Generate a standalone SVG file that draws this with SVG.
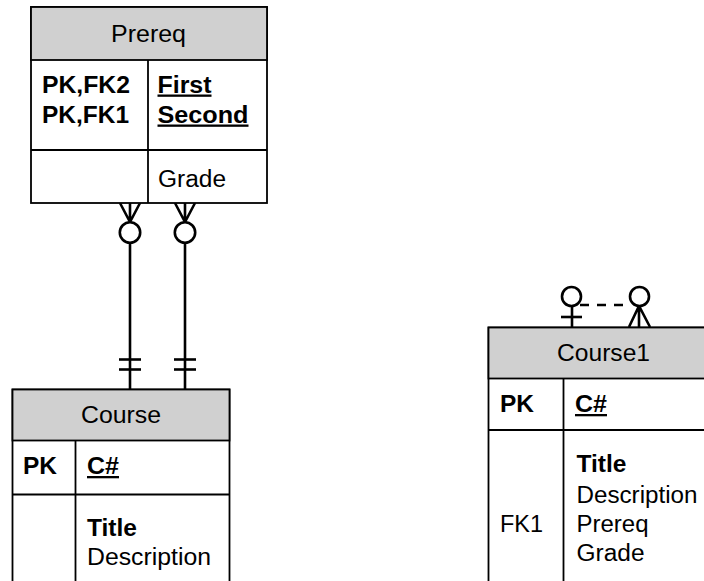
<svg xmlns="http://www.w3.org/2000/svg" width="704" height="581" viewBox="0 0 704 581">
<style>
.box{fill:#fff;stroke:#000;stroke-width:1.8}
.hdr{fill:#d0d0d0;stroke:#000;stroke-width:1.8}
.div{stroke:#000;stroke-width:1.8;fill:none}
text{font-family:"Liberation Sans",Arial,sans-serif;font-size:23px;fill:#000}
.b{font-weight:bold}
.u{text-decoration:underline}
.c{text-anchor:middle}
.ln{stroke:#000;stroke-width:2.6;fill:none}
.dash{stroke:#000;stroke-width:2.6;fill:none;stroke-dasharray:9 8}
.circ{fill:#fff;stroke:#000;stroke-width:2.6}
</style>
<rect width="704" height="581" fill="#fff"/>
<g id="connectors">
<g id="rel-first">
<line class="ln" x1="130" y1="389" x2="130" y2="243"/>
<line class="ln" x1="119" y1="359.5" x2="141" y2="359.5"/>
<line class="ln" x1="119" y1="369.5" x2="141" y2="369.5"/>
<path class="ln" d="M120 203 L130 222 L140 203 M130 203 V222"/>
<circle class="circ" cx="130" cy="232.5" r="10.2"/>
</g>
<g id="rel-second">
<line class="ln" x1="185" y1="389" x2="185" y2="243"/>
<line class="ln" x1="174" y1="359.5" x2="196" y2="359.5"/>
<line class="ln" x1="174" y1="369.5" x2="196" y2="369.5"/>
<path class="ln" d="M175 203 L185 222 L195 203 M185 203 V222"/>
<circle class="circ" cx="185" cy="232.5" r="10.2"/>
</g>
<g id="rel-self">
<line class="dash" x1="580" y1="305" x2="630" y2="305"/>
<line class="ln" x1="572" y1="327" x2="572" y2="305"/>
<line class="ln" x1="561" y1="317" x2="582" y2="317"/>
<path class="ln" d="M629 327 L639 306 L650 327 M639 327 V306"/>
<circle class="circ" cx="571.5" cy="296.5" r="9.5"/>
<circle class="circ" cx="639.5" cy="296.5" r="9.5"/>
</g>
</g>
<g id="prereq">
<rect class="box" x="31" y="7" width="236" height="196"/>
<rect class="hdr" x="31" y="7" width="236" height="53"/>
<line class="div" x1="148" y1="60" x2="148" y2="203"/>
<line class="div" x1="31" y1="150" x2="267" y2="150"/>
<text class="c" x="148.5" y="42" textLength="75" lengthAdjust="spacingAndGlyphs">Prereq</text>
<text class="b" x="42" y="93" textLength="88" lengthAdjust="spacingAndGlyphs">PK,FK2</text>
<text class="b" x="42" y="122.5" textLength="87" lengthAdjust="spacingAndGlyphs">PK,FK1</text>
<text class="b u" x="157.5" y="92.5" textLength="54" lengthAdjust="spacingAndGlyphs">First</text>
<text class="b u" x="157.5" y="122.5" textLength="91" lengthAdjust="spacingAndGlyphs">Second</text>
<text x="158" y="187" textLength="68" lengthAdjust="spacingAndGlyphs">Grade</text>
</g>
<g id="course">
<rect class="box" x="12.5" y="389.5" width="217" height="220"/>
<rect class="hdr" x="12.5" y="389.5" width="217" height="51"/>
<line class="div" x1="75.5" y1="440.5" x2="75.5" y2="600"/>
<line class="div" x1="12.5" y1="494.5" x2="229.5" y2="494.5"/>
<text class="c" x="121" y="423" textLength="80" lengthAdjust="spacingAndGlyphs">Course</text>
<text class="b" x="23" y="474" textLength="34" lengthAdjust="spacingAndGlyphs">PK</text>
<text class="b u" x="87" y="474" textLength="32" lengthAdjust="spacingAndGlyphs">C#</text>
<text class="b" x="87" y="535.5" textLength="50" lengthAdjust="spacingAndGlyphs">Title</text>
<text x="87" y="565" textLength="124" lengthAdjust="spacingAndGlyphs">Description</text>
</g>
<g id="course1">
<rect class="box" x="488.5" y="327.5" width="230" height="280"/>
<rect class="hdr" x="488.5" y="327.5" width="230" height="51"/>
<line class="div" x1="563.5" y1="378.5" x2="563.5" y2="600"/>
<line class="div" x1="488.5" y1="430" x2="710" y2="430"/>
<text class="c" x="603.5" y="361" textLength="93" lengthAdjust="spacingAndGlyphs">Course1</text>
<text class="b" x="500" y="412" textLength="34" lengthAdjust="spacingAndGlyphs">PK</text>
<text class="b u" x="575" y="412" textLength="32" lengthAdjust="spacingAndGlyphs">C#</text>
<text class="b" x="576.5" y="472" textLength="50" lengthAdjust="spacingAndGlyphs">Title</text>
<text x="576.5" y="502.5" textLength="121" lengthAdjust="spacingAndGlyphs">Description</text>
<text x="500" y="532" textLength="43" lengthAdjust="spacingAndGlyphs">FK1</text>
<text x="576.5" y="532" textLength="72" lengthAdjust="spacingAndGlyphs">Prereq</text>
<text x="576.5" y="561" textLength="68" lengthAdjust="spacingAndGlyphs">Grade</text>
</g>
</svg>
